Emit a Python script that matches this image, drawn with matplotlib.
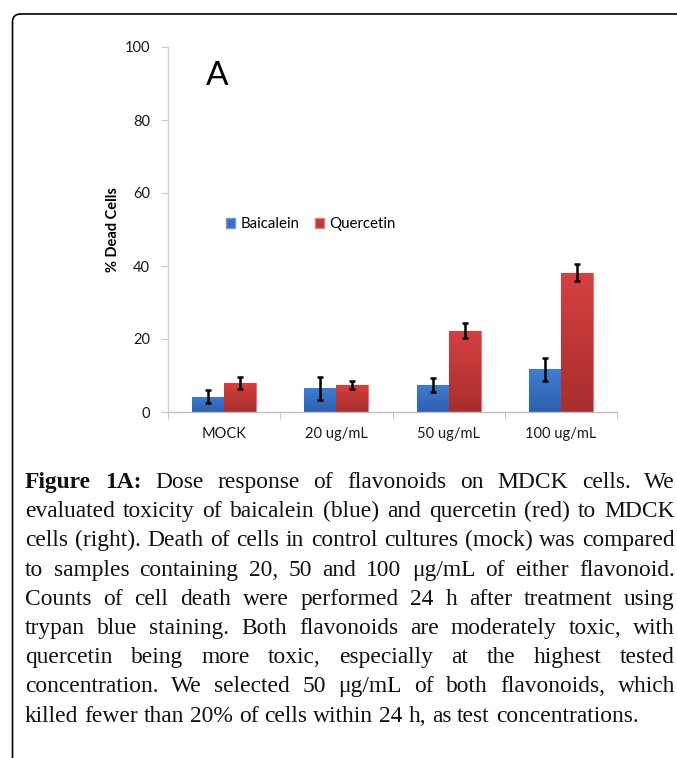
import numpy as np
import matplotlib
matplotlib.use("Agg")
import matplotlib.pyplot as plt
from matplotlib.patches import FancyBboxPatch, Patch

# ---------------- data ----------------
categories = ["MOCK", "20 ug/mL", "50 ug/mL", "100 ug/mL"]
baicalein = [4.2, 6.5, 7.4, 11.7]
baicalein_err = [1.8, 3.2, 1.8, 3.2]
quercetin = [7.9, 7.4, 22.3, 38.2]
quercetin_err = [1.6, 1.1, 2.1, 2.4]
series_names = ["Baicalein", "Quercetin"]
yticks = [0, 20, 40, 60, 80, 100]
ylabel = "% Dead Cells"
panel_label = "A"

caption_lines = [
    "Figure 1A: Dose response of flavonoids on MDCK cells. We",
    "evaluated toxicity of baicalein (blue) and quercetin (red) to MDCK",
    "cells (right). Death of cells in control cultures (mock) was compared",
    "to samples containing 20, 50 and 100 \u03bcg/mL of either flavonoid.",
    "Counts of cell death were performed 24 h after treatment using",
    "trypan blue staining. Both flavonoids are moderately toxic, with",
    "quercetin being more toxic, especially at the highest tested",
    "concentration. We selected 50 \u03bcg/mL of both flavonoids, which",
    "killed fewer than 20% of cells within 24 h, as test concentrations.",
]

W, H = 677, 758
fig = plt.figure(figsize=(W / 100, H / 100), dpi=100)
fig.patch.set_facecolor("white")

# border (rounded frame, left & top visible)
frame = FancyBboxPatch((0.125, -0.5), 7.3, 7.44 + 0.5,
                       boxstyle="round,pad=0,rounding_size=0.08",
                       transform=fig.dpi_scale_trans, fill=False,
                       edgecolor="black", linewidth=1.2)
fig.patches.append(frame)

# ---------------- chart ----------------
ax_l, ax_r, ax_t, ax_b = 168, 617, 47, 412
ax = fig.add_axes([ax_l / W, 1 - ax_b / H, (ax_r - ax_l) / W, (ax_b - ax_t) / H])

sans = ["Lato", "DejaVu Sans"]
x = np.arange(len(categories))
bw = 0.285
blue_top, blue_bot = np.array([0.25, 0.49, 0.82]), np.array([0.18, 0.37, 0.68])
red_top, red_bot = np.array([0.84, 0.25, 0.25]), np.array([0.66, 0.18, 0.18])

def grad_bars(xpos, vals, ctop, cbot, edge):
    bars = ax.bar(xpos, vals, bw, color=(ctop + cbot) / 2, edgecolor=edge,
                  linewidth=0.8, zorder=2)
    for b in bars:
        x0, y0 = b.get_x(), b.get_y()
        w, h = b.get_width(), b.get_height()
        g = np.linspace(0, 1, 64)[:, None, None]
        img = ctop[None, None, :] * (1 - g) + cbot[None, None, :] * g
        im = ax.imshow(img, extent=[x0, x0 + w, y0, y0 + h], origin="upper",
                       aspect="auto", zorder=2.1)
        im.set_clip_path(b)
    return bars

b1 = grad_bars(x - bw / 2, baicalein, blue_top, blue_bot, "#6f9bd6")
b2 = grad_bars(x + bw / 2, quercetin, red_top, red_bot, "#e07a7a")
ax.errorbar(x - bw / 2, baicalein, yerr=baicalein_err, fmt="none", ecolor="black",
            elinewidth=1.8, capsize=2, capthick=1.8, zorder=3)
ax.errorbar(x + bw / 2, quercetin, yerr=quercetin_err, fmt="none", ecolor="black",
            elinewidth=1.8, capsize=2, capthick=1.8, zorder=3)

ax.set_xlim(-0.5, len(categories) - 0.5)
ax.set_ylim(0, 100)
ax.set_yticks(yticks)
ax.set_yticklabels([str(t) for t in yticks], fontfamily=sans, fontsize=10.5, color="#1a1a1a")
ax.set_xticks(x)
ax.set_xticklabels(categories, fontfamily=sans, fontsize=10.5, color="#1a1a1a")
ax.tick_params(axis="x", length=0, pad=11)
ax.tick_params(axis="y", length=5, color="#c8c8c8", pad=8)
ax.set_xticks(np.arange(-0.5, len(categories), 1.0), minor=True)
ax.tick_params(axis="x", which="minor", length=5, color="#bfbfbf", direction="out")
for s in ["top", "right"]:
    ax.spines[s].set_visible(False)
ax.spines["left"].set_color("#d0d0d0")
ax.spines["bottom"].set_color("#bfbfbf")
ax.spines["left"].set_linewidth(1.0)
ax.spines["bottom"].set_linewidth(1.0)
ax.set_ylabel(ylabel, fontfamily=sans, fontsize=10.5, fontweight="bold", labelpad=3)
ax.set_facecolor("none")

ax.text(-0.063, 92, panel_label, fontfamily=sans, fontsize=24, ha="center", va="center")

handles = [Patch(facecolor=(blue_top + blue_bot) / 2, edgecolor="#6f9bd6"),
           Patch(facecolor=(red_top + red_bot) / 2, edgecolor="#e07a7a")]
leg = ax.legend(handles, series_names, loc="center", bbox_to_anchor=(0.318, 0.515),
                ncol=2, frameon=False, handlelength=0.6, handleheight=0.6,
                handletextpad=0.4, columnspacing=1.0,
                prop={"family": sans, "size": 10.8})

# ---------------- caption (justified) ----------------
serif = ["Liberation Serif", "DejaVu Serif"]
renderer = fig.canvas.get_renderer()

def text_w(s, size, weight="normal"):
    t = fig.text(0, 0, s, fontsize=size, fontfamily=serif, fontweight=weight)
    w = t.get_window_extent(renderer).width
    t.remove()
    return w

# size chosen so that the last (unjustified) line spans ~615 px
w10 = text_w(caption_lines[-1], 10)
fs = 10 * 615 / w10

x_left, x_right = 25, 675
base0, lead = 488, 29.2
space_w = text_w("a a", fs) - text_w("aa", fs)
for i, line in enumerate(caption_lines):
    words = line.split(" ")
    weights = ["normal"] * len(words)
    if i == 0:
        weights[0] = weights[1] = "bold"
    widths = [text_w(wd, fs, wt) for wd, wt in zip(words, weights)]
    if i < len(caption_lines) - 1:
        gap = (x_right - x_left - sum(widths)) / (len(words) - 1)
    else:
        gap = space_w
    xp = x_left
    yb = base0 + i * lead
    for wd, wt, ww in zip(words, weights, widths):
        fig.text(xp / W, 1 - yb / H, wd, fontsize=fs, fontfamily=serif,
                 fontweight=wt, ha="left", va="baseline", color="#111111")
        xp += ww + gap

fig.savefig("out.png", dpi=100, facecolor="white")
